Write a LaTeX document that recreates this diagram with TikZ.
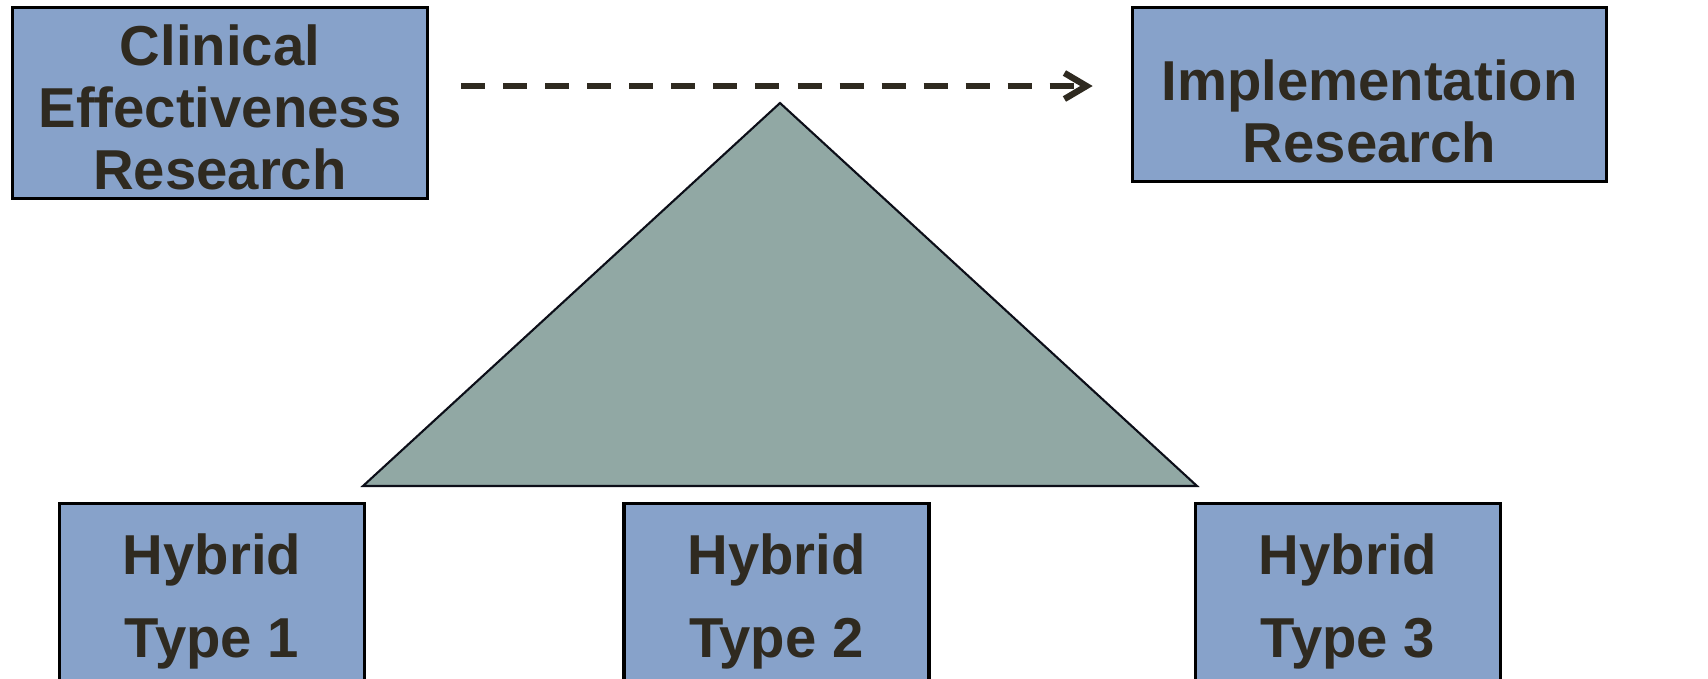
\documentclass[tikz,border=0pt]{standalone}
\usepackage{fontspec}
\setmainfont{Liberation Sans}
\usetikzlibrary{positioning,arrows.meta}
\definecolor{BoxBlue}{RGB}{135,162,202}
\definecolor{Sage}{RGB}{145,168,164}
\definecolor{Ink}{RGB}{47,42,32}
\definecolor{Edge}{RGB}{12,14,24}

\begin{document}
\begin{tikzpicture}[
    x=0.01cm,y=-0.01cm,
    box/.style={rectangle,draw=black,fill=BoxBlue,line width=0.95pt,text=Ink,inner sep=0pt,align=center,font=\fontsize{16}{17.6}\selectfont\bfseries},
    boxtext/.style={text=Ink,inner sep=0pt,align=center,font=\fontsize{16}{17.6}\selectfont\bfseries},
    hybrid/.style={box,minimum width=3.05cm,minimum height=1.95cm,font=\fontsize{16}{23.6}\selectfont\bfseries},
    tri/.style={draw=Edge,fill=Sage,line width=0.6pt,line join=miter},
    arrow/.style={-{Straight Barb[length=0.22cm,width=0.26cm]},line width=1.8pt,Ink,dash pattern=on 0.24cm off 0.18cm}
]
\clip (0,0) rectangle (1708,678);

% research boxes (top)
\node[box,minimum width=4.15cm,minimum height=1.91cm] (cer) at (220,103) {};
\node[boxtext] (cer-text) at (220,107) {Clinical\\Effectiveness\\Research};
\node[box,minimum width=4.74cm,minimum height=1.74cm] (impl) at (1369.5,94.5) {};
\node[boxtext] (impl-text) at (1369.5,111) {Implementation\\Research};

\draw[arrow] ([xshift=0.32cm]cer.east |- 0,86) -- ([xshift=-0.38cm]impl.west |- 0,86);

% continuum triangle
\coordinate (apex) at (780,103);
\coordinate (base-r) at (1197,486);
\coordinate (base-l) at (363,486);
\draw[tri] (apex) -- (base-r) -- (base-l) -- cycle;

% hybrid designs (bottom)
\node[hybrid] (hyb1) at (212,601) {Hybrid\\Type 1};
\node[hybrid] (hyb2) at (776.5,601) {Hybrid\\Type 2};
\node[hybrid] (hyb3) at (1348,601) {Hybrid\\Type 3};

\end{tikzpicture}
\end{document}
